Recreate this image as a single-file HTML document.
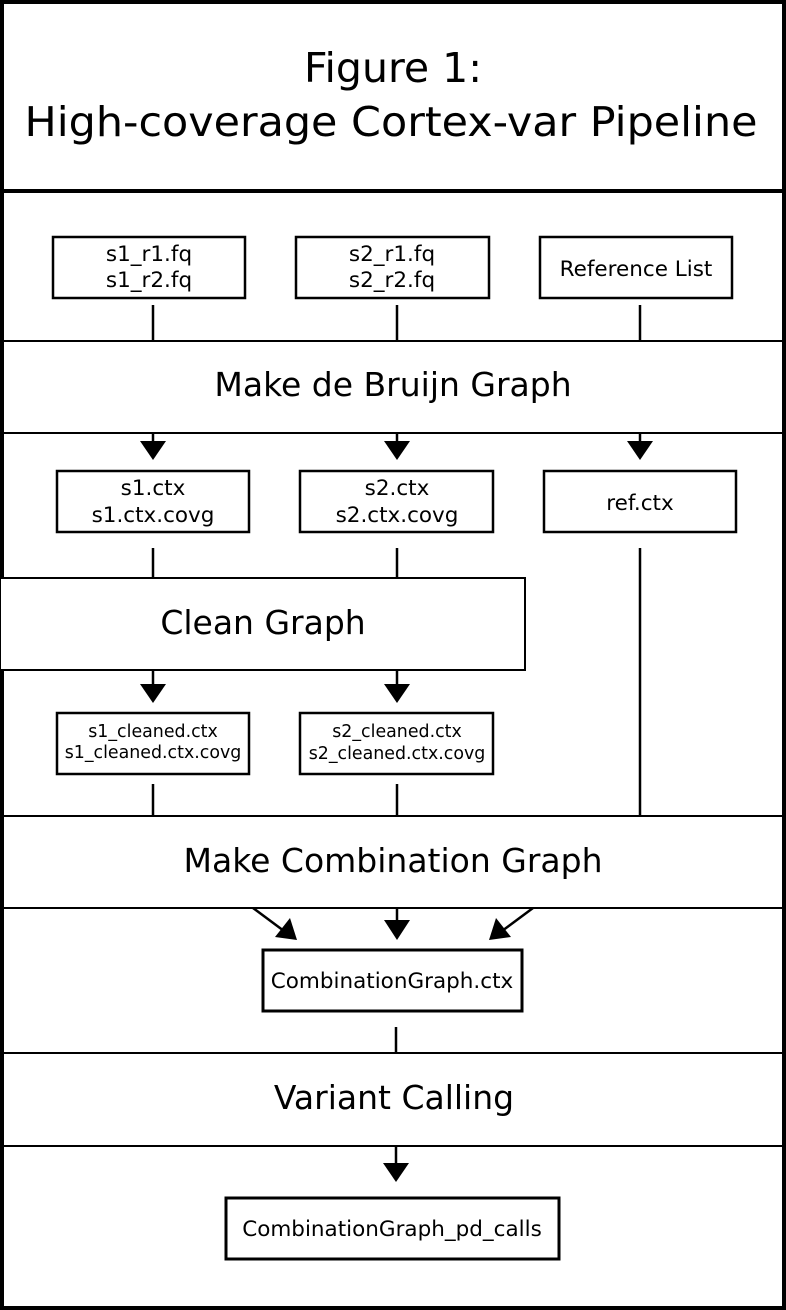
<!DOCTYPE html>
<html><head><meta charset="utf-8"><style>
html,body{margin:0;padding:0;background:#fff;width:786px;height:1310px;overflow:hidden}
svg{display:block}
text{font-family:"DejaVu Sans","Liberation Sans",sans-serif;fill:#000;text-anchor:middle}
</style></head><body>
<svg width="786" height="1310" viewBox="0 0 786 1310" xmlns="http://www.w3.org/2000/svg">
<rect x="0" y="0" width="786" height="1310" fill="#fff"/>
<g stroke="#000" fill="none">
<rect x="2" y="2" width="782" height="1306" stroke-width="4"/>
<line x1="0" y1="191" x2="786" y2="191" stroke-width="4"/>
<line x1="0" y1="341" x2="786" y2="341" stroke-width="2"/>
<line x1="0" y1="433" x2="786" y2="433" stroke-width="2"/>
<line x1="0" y1="816" x2="786" y2="816" stroke-width="2"/>
<line x1="0" y1="908" x2="786" y2="908" stroke-width="2"/>
<line x1="0" y1="1053" x2="786" y2="1053" stroke-width="2"/>
<line x1="0" y1="1146" x2="786" y2="1146" stroke-width="2"/>
<rect x="0" y="578" width="525" height="92" stroke-width="2" fill="#fff"/>
<g stroke-width="2.5" fill="#fff">
<rect x="53" y="237" width="192" height="61"/>
<rect x="296" y="237" width="193" height="61"/>
<rect x="540" y="237" width="192" height="61"/>
<rect x="57" y="471" width="192" height="61"/>
<rect x="300" y="471" width="193" height="61"/>
<rect x="544" y="471" width="192" height="61"/>
<rect x="57" y="713" width="192" height="61"/>
<rect x="300" y="713" width="193" height="61"/>
</g>
<rect x="263" y="950" width="259" height="61" stroke-width="3"/>
<rect x="226" y="1198" width="333" height="61" stroke-width="3"/>
<g stroke-width="2.5">
<line x1="153" y1="305" x2="153" y2="341"/>
<line x1="397" y1="305" x2="397" y2="341"/>
<line x1="640" y1="305" x2="640" y2="341"/>
<line x1="153" y1="433" x2="153" y2="445"/>
<line x1="397" y1="433" x2="397" y2="445"/>
<line x1="640" y1="433" x2="640" y2="445"/>
<line x1="153" y1="548" x2="153" y2="578"/>
<line x1="397" y1="548" x2="397" y2="578"/>
<line x1="640" y1="548" x2="640" y2="816"/>
<line x1="153" y1="670" x2="153" y2="688"/>
<line x1="397" y1="670" x2="397" y2="688"/>
<line x1="153" y1="784" x2="153" y2="816"/>
<line x1="397" y1="784" x2="397" y2="816"/>
<line x1="397" y1="908" x2="397" y2="924"/>
<line x1="253" y1="908" x2="284" y2="931"/>
<line x1="533" y1="908" x2="502" y2="931"/>
<line x1="396" y1="1027" x2="396" y2="1053"/>
<line x1="396" y1="1146" x2="396" y2="1166"/>
</g>
</g>
<g fill="#000">
<polygon points="140,441 166,441 153,460"/>
<polygon points="384,441 410,441 397,460"/>
<polygon points="627,441 653,441 640,460"/>
<polygon points="140,684 166,684 153,703"/>
<polygon points="384,684 410,684 397,703"/>
<polygon points="384,920 410,920 397,940"/>
<polygon points="275,937 290,918 297,940"/>
<polygon points="511,937 496,918 489,940"/>
<polygon points="383,1163 409,1163 396,1182"/>
</g>
<text x="393" y="82" font-size="41">Figure 1:</text>
<text x="391" y="136" font-size="41" textLength="733" lengthAdjust="spacingAndGlyphs">High-coverage Cortex-var Pipeline</text>
<text x="393" y="396" font-size="33">Make de Bruijn Graph</text>
<text x="263" y="634" font-size="33">Clean Graph</text>
<text x="393" y="872" font-size="33">Make Combination Graph</text>
<text x="394" y="1109" font-size="33">Variant Calling</text>
<g font-size="21.5">
<text x="149" y="261">s1_r1.fq</text>
<text x="149" y="287">s1_r2.fq</text>
<text x="392" y="261">s2_r1.fq</text>
<text x="392" y="287">s2_r2.fq</text>
<text x="636" y="276">Reference List</text>
<text x="153" y="495">s1.ctx</text>
<text x="153" y="522">s1.ctx.covg</text>
<text x="397" y="495">s2.ctx</text>
<text x="397" y="522">s2.ctx.covg</text>
<text x="640" y="510">ref.ctx</text>
<text x="392" y="988">CombinationGraph.ctx</text>
<text x="392" y="1236">CombinationGraph_pd_calls</text>
</g>
<g font-size="17.4">
<text x="153" y="737">s1_cleaned.ctx</text>
<text x="153" y="758">s1_cleaned.ctx.covg</text>
<text x="397" y="737">s2_cleaned.ctx</text>
<text x="397" y="759">s2_cleaned.ctx.covg</text>
</g>
</svg>
</body></html>
